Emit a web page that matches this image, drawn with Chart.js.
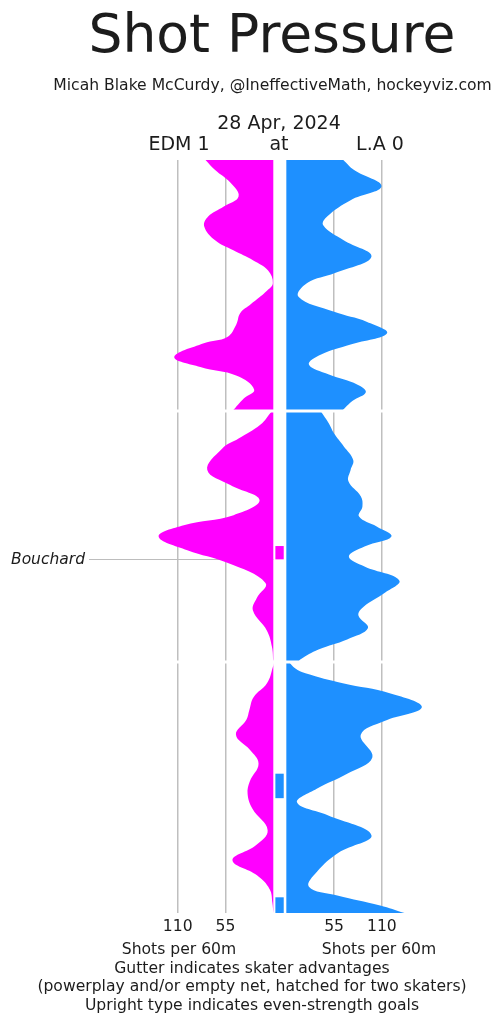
<!DOCTYPE html>
<html>
<head>
<meta charset="utf-8">
<script src="https://cdn.jsdelivr.net/npm/chart.js@4.4.1/dist/chart.umd.min.js"></script>
<style>
  html, body { margin: 0; padding: 0; background: #fff; }
  #wrap { position: relative; width: 503px; height: 1024px; overflow: hidden;
          font-family: "DejaVu Sans", sans-serif; color: #1c1c1c; }
  #chart { position: absolute; left: 0; top: 0; }
  .txt { position: absolute; white-space: nowrap; line-height: 1; transform: translateX(-50%); }
</style>
</head>
<body>
<div id="wrap">
  <canvas id="chart" width="503" height="1024"></canvas>
  <div class="txt" style="left:272px; top:7px; font-size:53.5px;">Shot Pressure</div>
  <div class="txt" style="left:272.5px; top:78px; font-size:15.6px;">Micah Blake McCurdy, @IneffectiveMath, hockeyviz.com</div>
  <div class="txt" style="left:279px; top:113px; font-size:19px;">28 Apr, 2024</div>
  <div class="txt" style="left:179px; top:134px; font-size:19px;">EDM 1</div>
  <div class="txt" style="left:279px; top:134px; font-size:19px;">at</div>
  <div class="txt" style="left:380px; top:134px; font-size:19px;">L.A 0</div>
  <div class="txt" style="left:179px; top:941.5px; font-size:15.6px;">Shots per 60m</div>
  <div class="txt" style="left:379px; top:941.5px; font-size:15.6px;">Shots per 60m</div>
  <div class="txt" style="left:252px; top:960.5px; font-size:15.6px;">Gutter indicates skater advantages</div>
  <div class="txt" style="left:252px; top:979px; font-size:15.6px;">(powerplay and/or empty net, hatched for two skaters)</div>
  <div class="txt" style="left:252px; top:997.5px; font-size:15.6px;">Upright type indicates even-strength goals</div>
  <div id="goalLabel" style="position:absolute; right:418px; font-size:15.5px; font-style:italic; line-height:1; white-space:nowrap;"></div>
</div>
<script>
// game time in minutes, shot rates in shots per 60m
const edmTimes1 = [0, 0.8, 1.8, 2.9, 3.7, 4.5, 5.3, 6.4, 7.2, 8.0, 8.8, 9.8, 10.4, 11.5, 12.2, 13.1, 14.1, 14.6, 15.7, 16.5, 17.2, 18.3, 19.0, 20];
const edmRates1 = [78, 67, 49.5, 40, 57, 75, 79.5, 67, 46, 23, 6, 0.5, 7, 26, 38, 42.6, 53, 80, 114, 84, 42, 22, 34, 47];
const edmTimes2 = [20, 21.1, 22.2, 23.0, 24.7, 25.9, 27.1, 28.3, 29.1, 30.0, 31.1, 32.1, 33.7, 34.9, 35.9, 37.5, 38.8, 40];
const edmRates2 = [1.5, 15, 40, 59, 76, 49.5, 15.8, 45.7, 103, 132, 99, 53, 9, 19, 23.4, 7.3, 1.5, 0];
const edmTimes3 = [40, 40.4, 41.7, 42.8, 43.8, 44.6, 45.8, 47.0, 48.1, 49.5, 50.5, 51.7, 53.4, 54.6, 55.8, 57.0, 58.1, 59.2, 60];
const edmRates3 = [0, 0.5, 7.3, 22.7, 27.5, 31, 43, 27, 17, 27, 29.6, 24, 6.5, 20, 47, 18.8, 4.2, 1, 0];

const laTimes1 = [0, 0.8, 2.1, 3.2, 4.5, 5.2, 6.4, 7.7, 9.0, 9.8, 10.9, 12.1, 12.9, 13.8, 14.7, 15.5, 16.3, 17.1, 17.9, 18.5, 19.2, 20];
const laRates1 = [65.6, 78, 109.6, 74, 47, 42.5, 66, 98, 56, 24, 14, 55, 93, 116, 74, 40, 26, 49, 82, 91.5, 76, 64];
const laTimes2 = [20, 21.0, 21.8, 22.8, 23.9, 24.7, 25.6, 26.8, 27.6, 28.4, 29.2, 30.0, 30.8, 31.6, 32.4, 33.5, 34.5, 35.6, 36.3, 37.3, 38.2, 39.0, 39.8, 40];
const laRates2 = [39.4, 49, 55, 66, 77, 74, 71.5, 85.7, 87.6, 83.7, 104, 121, 90, 72, 90, 130, 113, 89, 83, 94, 70, 37, 16, 14];
const laTimes3 = [40, 40.5, 40.9, 41.7, 42.5, 43.6, 44.7, 45.8, 47.6, 48.9, 50.1, 51.2, 52.2, 53.8, 55.2, 56.7, 57.9, 58.6, 59.4, 60];
const laRates3 = [3, 10, 22, 65, 120, 156, 113, 85.7, 99, 70, 35, 12.4, 47, 98, 60, 35.5, 26, 58.7, 108, 136];

// skater advantages [start, end] in minutes
const edmPowerPlays = [[30.76, 31.82]];
const laPowerPlays = [[48.9, 50.85], [58.75, 60]];

const goalTimes = [31.82];
const goalScorers = ['Bouchard'];

const periodBreaks = [20, 40];
const tickValues = [110, 55];
const tickLabels = ['110', '55', '55', '110'];

const EDM_COLOR = '#ff00ff';
const LA_COLOR = '#1e90ff';
const GUTTER = 15; // gutter width in shots/60 units

function edmSeries(times, rates) {
  return times.map((t, i) => ({ x: -rates[i], y: t }));
}
function laSeries(times, rates) {
  return times.map((t, i) => ({ x: GUTTER + rates[i], y: t }));
}
function area(data, color, base) {
  return {
    data: data,
    backgroundColor: color,
    borderColor: color,
    borderWidth: 0,
    pointRadius: 0,
    fill: { value: base },
    tension: 0.4
  };
}

const overlay = {
  id: 'overlay',
  beforeDatasetsDraw(chart) {
    const { ctx, scales: { x, y } } = chart;
    ctx.save();
    ctx.strokeStyle = '#bdbdbd';
    ctx.lineWidth = 1;
    goalTimes.forEach(t => {
      const py = Math.round(y.getPixelForValue(t)) + 0.5;
      ctx.beginPath();
      ctx.moveTo(89, py);
      ctx.lineTo(x.getPixelForValue(0), py);
      ctx.stroke();
    });
    ctx.restore();
  },
  afterDatasetsDraw(chart) {
    const { ctx, chartArea, scales: { x, y } } = chart;
    ctx.save();
    const gx0 = x.getPixelForValue(2.4);
    const gx1 = x.getPixelForValue(12);
    const drawPP = (list, color) => {
      ctx.fillStyle = color;
      list.forEach(([a, b]) => {
        const y0 = y.getPixelForValue(a), y1 = y.getPixelForValue(b);
        ctx.fillRect(gx0, y0, gx1 - gx0, y1 - y0);
      });
    };
    drawPP(edmPowerPlays, EDM_COLOR);
    drawPP(laPowerPlays, LA_COLOR);

    ctx.strokeStyle = '#ffffff';
    ctx.lineWidth = 3;
    periodBreaks.forEach(t => {
      const py = y.getPixelForValue(t);
      ctx.beginPath();
      ctx.moveTo(chartArea.left, py);
      ctx.lineTo(chartArea.right, py);
      ctx.stroke();
    });
    ctx.restore();
  }
};

const chart = new Chart(document.getElementById('chart'), {
  type: 'line',
  data: {
    datasets: [
      area(edmSeries(edmTimes1, edmRates1), EDM_COLOR, 0),
      area(edmSeries(edmTimes2, edmRates2), EDM_COLOR, 0),
      area(edmSeries(edmTimes3, edmRates3), EDM_COLOR, 0),
      area(laSeries(laTimes1, laRates1), LA_COLOR, GUTTER),
      area(laSeries(laTimes2, laRates2), LA_COLOR, GUTTER),
      area(laSeries(laTimes3, laRates3), LA_COLOR, GUTTER)
    ]
  },
  options: {
    indexAxis: 'y',
    responsive: false,
    animation: false,
    devicePixelRatio: 1,
    layout: { padding: { left: 143, right: 69, top: 160, bottom: 81 } },
    plugins: { legend: { display: false }, tooltip: { enabled: false } },
    scales: {
      y: { type: 'linear', min: 0, max: 60, reverse: true, display: false },
      x: {
        type: 'linear',
        min: -150,
        max: 185,
        afterFit(scale) { scale.height = 30; },
        afterBuildTicks(scale) {
          scale.ticks = [-tickValues[0], -tickValues[1], GUTTER + tickValues[1], GUTTER + tickValues[0]]
            .map(v => ({ value: v }));
        },
        grid: { color: '#bfbfbf', lineWidth: 1.5, drawTicks: false },
        border: { display: false },
        ticks: {
          autoSkip: false,
          maxRotation: 0,
          padding: 5,
          color: '#1c1c1c',
          font: { family: 'DejaVu Sans', size: 15.6 },
          callback: (v, i) => tickLabels[i]
        }
      }
    }
  },
  plugins: [overlay]
});

const goalLabel = document.getElementById('goalLabel');
goalLabel.textContent = goalScorers[0];
goalLabel.style.top = (chart.scales.y.getPixelForValue(goalTimes[0]) - 7.8) + 'px';
</script>
</body>
</html>
